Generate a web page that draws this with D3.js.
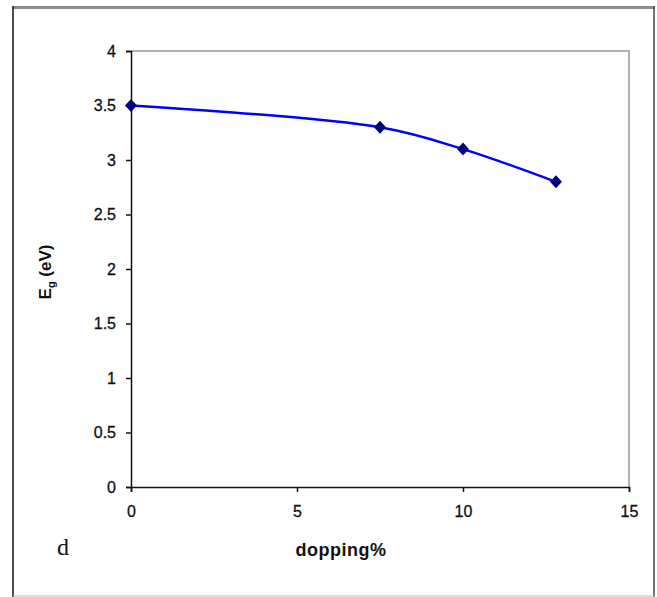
<!DOCTYPE html>
<html><head><meta charset="utf-8">
<script src="https://cdn.jsdelivr.net/npm/d3@7"></script>
<style>body{margin:0;background:#fff}svg{display:block}</style>
</head><body>
<svg id="c" width="657" height="597"></svg>
<script>
const doping = [0, 7.5, 10, 12.8];
const eg = [3.5, 3.3, 3.1, 2.8];
const xTicks = [0, 5, 10, 15];
const yTicks = [0, 0.5, 1, 1.5, 2, 2.5, 3, 3.5, 4];

const svg = d3.select("#c");
// outer frame
svg.append("line").attr("x1",13).attr("x2",655).attr("y1",7.5).attr("y2",7.5).attr("stroke","#8c8c8c").attr("stroke-width",3);
svg.append("line").attr("x1",13).attr("x2",13).attr("y1",6).attr("y2",597).attr("stroke","#111").attr("stroke-width",1.5);
svg.append("line").attr("x1",654).attr("x2",654).attr("y1",6).attr("y2",597).attr("stroke","#444").attr("stroke-width",1.5);
svg.append("line").attr("x1",13).attr("x2",655).attr("y1",596).attr("y2",596).attr("stroke","#bbb").attr("stroke-width",1);

const L=131, R=629, T=51, B=487;
const x = d3.scaleLinear().domain([0,15]).range([L,R]);
const y = d3.scaleLinear().domain([0,4]).range([B,T]);

// plot frame (top and right gray)
svg.append("path").attr("d",`M${L},${T}H${R}V${B}`).attr("fill","none").attr("stroke","#999").attr("stroke-width",1.5);

const font = "'Liberation Sans', Arial, sans-serif";
const gx = svg.append("g").attr("transform",`translate(0,${B})`)
  .call(d3.axisBottom(x).tickValues(xTicks).tickSize(5).tickPadding(14).tickFormat(d3.format("d")));
const gy = svg.append("g").attr("transform",`translate(${L},0)`)
  .call(d3.axisLeft(y).tickValues(yTicks).tickSize(5).tickPadding(10).tickFormat(d=>d));
[gx,gy].forEach(g=>{
  g.select(".domain").attr("stroke","#111").attr("stroke-width",1.5);
  g.selectAll(".tick line").attr("stroke","#111").attr("stroke-width",1.5);
  g.selectAll("text").attr("font-family",font).attr("font-size",16).attr("fill","#111")
    .attr("stroke","#111").attr("stroke-width",0.3);
});

const pts = doping.map((d,i)=>[d,eg[i]]);
svg.append("path").datum(pts)
  .attr("d", d3.line().x(d=>x(d[0])).y(d=>y(d[1])).curve(d3.curveCatmullRom.alpha(0.5)))
  .attr("fill","none").attr("stroke","#0000ff").attr("stroke-width",2.5);

svg.selectAll(".m").data(pts).enter().append("path")
  .attr("transform",d=>`translate(${x(d[0])},${y(d[1])})`)
  .attr("d","M0,-6.5L6,0L0,6.5L-6,0Z").attr("fill","#000080");

// axis titles
const yt = svg.append("text").attr("transform","translate(51,272) rotate(-90)")
  .attr("text-anchor","middle").attr("font-family",font).attr("font-weight","bold").attr("font-size",17).attr("fill","#111");
yt.append("tspan").text("E");
yt.append("tspan").attr("font-size",11).attr("dy",4).text("g");
yt.append("tspan").attr("dy",-4).text(" (eV)");

svg.append("text").attr("x",341).attr("y",556).attr("text-anchor","middle")
  .attr("font-family",font).attr("font-weight","bold").attr("font-size",18).attr("letter-spacing",0.5).attr("fill","#111").text("dopping%");

svg.append("text").attr("x",63).attr("y",555).attr("text-anchor","middle")
  .attr("font-family","'Liberation Serif','Times New Roman',serif").attr("font-size",24).attr("fill","#111").text("d");
</script>
</body></html>
